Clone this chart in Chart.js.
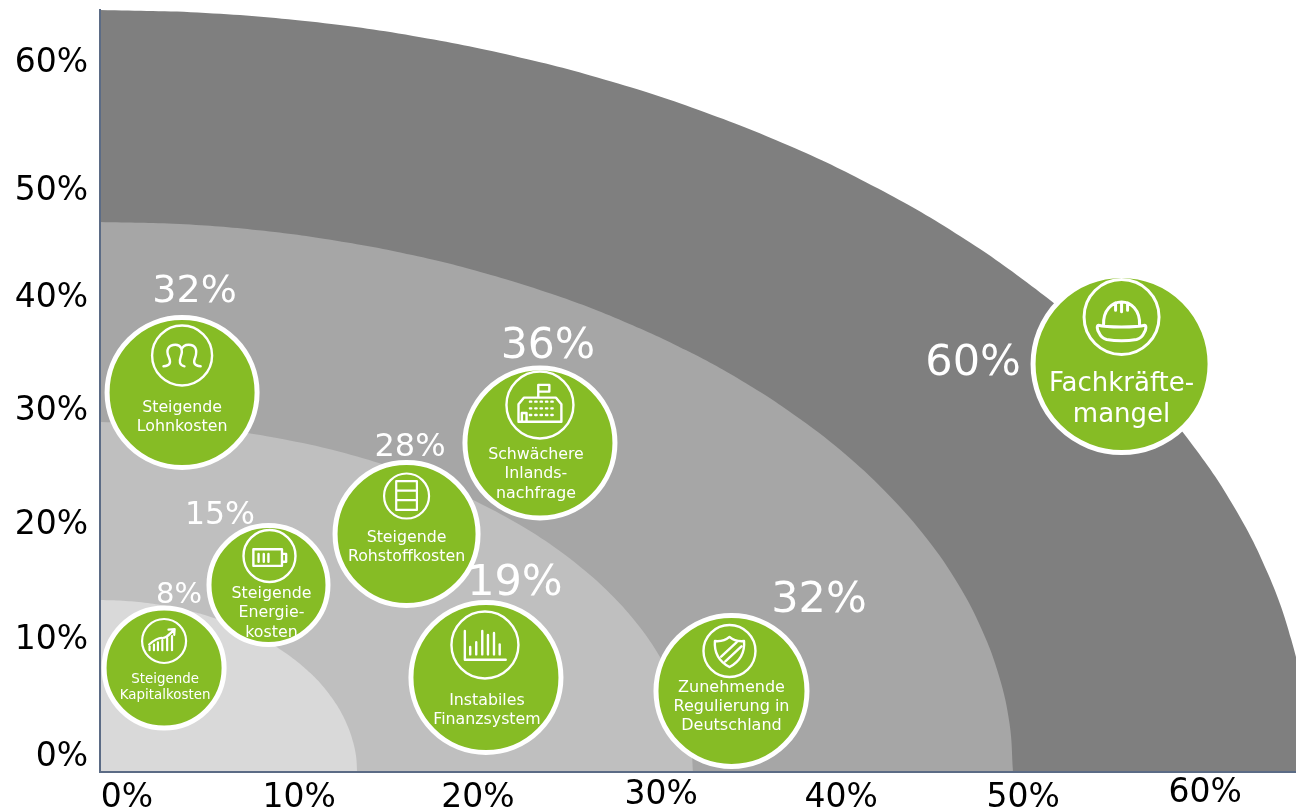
<!DOCTYPE html>
<html lang="de">
<head>
<meta charset="utf-8">
<title>Geschäftsrisiken</title>
<script src="https://cdn.jsdelivr.net/npm/chart.js@4"></script>
<style>
  html, body { margin: 0; padding: 0; background: #fff; overflow: hidden; }
  canvas { display: block; }
</style>
</head>
<body>
<canvas id="riskChart" width="1296" height="808"></canvas>
<script>
// Tick positions are read off the picture, the labels there are not evenly spaced
const xTickValues = [0, 9.56, 19.5, 29.67, 39.67, 49.78, 59.89];
const xTickLabels = ['0%', '10%', '20%', '30%', '40%', '50%', '60%'];
const yTickValues = [-0.25, 9.85, 19.78, 29.63, 39.39, 48.63, 59.75];
const yTickLabels = ['0%', '10%', '20%', '30%', '40%', '50%', '60%'];

// Risks
const riskNames = [
  ['Steigende', 'Lohnkosten'],
  ['Steigende', 'Energie-', 'kosten'],
  ['Steigende', 'Kapitalkosten'],
  ['Steigende', 'Rohstoffkosten'],
  ['Schwächere', 'Inlands-', 'nachfrage'],
  ['Instabiles', 'Finanzsystem'],
  ['Zunehmende', 'Regulierung in', 'Deutschland'],
  ['Fachkräfte-', 'mangel']
];
const riskShares = ['32%', '15%', '8%', '28%', '36%', '19%', '32%', '60%'];
const riskX = [3.06, 7.86, 2.06, 15.53, 22.94, 19.94, 33.58, 55.25];
const riskY = [31.3, 14.68, 7.51, 19.08, 26.94, 6.69, 5.53, 33.76];
const riskR = [75, 59.5, 60, 71.5, 75, 75, 75.5, 88.5];

// Background bands, outlines
const band1X = [-1.5, -0.25, 0.98, 2.2, 3.38, 4.53, 5.64, 6.69, 7.68, 8.6, 9.44, 10.2, 10.87, 11.44, 11.92, 12.29, 12.56, 12.73, 12.78];
const band1Y = [13.38, 13.32, 13.15, 12.87, 12.48, 11.99, 11.39, 10.7, 9.91, 9.03, 8.08, 7.05, 5.96, 4.81, 3.61, 2.37, 1.11, -0.18, -1.47];
const band2X = [-1.5, 1.37, 4.22, 7.02, 9.77, 12.42, 14.97, 17.39, 19.67, 21.79, 23.73, 25.48, 27.03, 28.35, 29.45, 30.32, 30.94, 31.32, 31.44];
const band2Y = [28.75, 28.64, 28.29, 27.72, 26.93, 25.92, 24.7, 23.29, 21.68, 19.9, 17.96, 15.86, 13.64, 11.3, 8.87, 6.35, 3.78, 1.17, -1.47];
const band3X = [-1.5, 2.92, 7.31, 11.63, 15.85, 19.93, 23.86, 27.59, 31.1, 34.36, 37.35, 40.05, 42.42, 44.47, 46.16, 47.49, 48.45, 49.03, 49.22];
const band3Y = [46.03, 45.85, 45.31, 44.41, 43.17, 41.58, 39.67, 37.44, 34.92, 32.12, 29.06, 25.78, 22.28, 18.6, 14.78, 10.82, 6.78, 2.67, -1.47];
const band4X = [-1.5, 4.36, 10.17, 15.89, 21.48, 26.9, 32.1, 37.05, 41.7, 46.02, 49.98, 53.55, 56.7, 59.4, 61.65, 63.41, 64.68, 65.45, 65.7];
const band4Y = [64.33, 64.08, 63.33, 62.09, 60.36, 58.16, 55.51, 52.43, 48.93, 45.06, 40.83, 36.27, 31.43, 26.34, 21.03, 15.56, 9.95, 4.27, -1.47];

const FONT = '"DejaVu Sans", Verdana, sans-serif';
const GREEN = '#86bc25';

// Some x labels sit a bit higher in the picture
const xLabelNudge = [0, 0, 0, -3, 0, 0, -5];

// Placement of the share label, icon ring and caption relative to each bubble, in pixels
const shareStyle = [
  { dx: 12.5, dy: -100, size: 38 },
  { dx: -48.5, dy: -69.3, size: 31.5 },
  { dx: 15, dy: -72.3, size: 29 },
  { dx: 3.5, dy: -86.8, size: 32 },
  { dx: 8, dy: -96, size: 42.5 },
  { dx: 29, dy: -93.5, size: 43 },
  { dx: 87.5, dy: -90.5, size: 43 },
  { dx: -148.5, dy: -0.5, size: 43 }
];
const ringStyle = [
  { dx: 0, dy: -37, r: 30, lw: 2.4 },
  { dx: 1, dy: -29, r: 26, lw: 2.4 },
  { dx: 0, dy: -27, r: 22, lw: 2.2 },
  { dx: 0, dy: -38, r: 22.5, lw: 2.2 },
  { dx: 0, dy: -38, r: 33.5, lw: 2.4 },
  { dx: -1, dy: -32.5, r: 33.5, lw: 2.4 },
  { dx: -2, dy: -40, r: 26, lw: 2.4 },
  { dx: 0, dy: -47, r: 37.5, lw: 3 }
];
const captionStyle = [
  { dx: 0, dy: 15.5, step: 19, size: 15.8 },
  { dx: 3, dy: 9, step: 19.4, size: 15.8 },
  { dx: 1, dy: 12, step: 16, size: 13.4 },
  { dx: 0, dy: 4, step: 19.3, size: 15.8 },
  { dx: -4, dy: 12, step: 19.3, size: 15.8 },
  { dx: 1, dy: 23.5, step: 19, size: 15.8 },
  { dx: 0, dy: -3, step: 18.8, size: 16 },
  { dx: 0, dy: 20, step: 31.3, size: 26 }
];

// Icons, in a box where the ring has radius 50
const icons = [
  'M-31 18C-20 17 -18 12 -22 3C-28 -10 -22 -18 -11 -18C-2 -18 2 -10 -2 1C-5 10 -5 16 4 18 M-1 -10C1 -16 6 -18 11 -18C22 -18 26 -10 22 3C18 12 20 17 31 18',
  'M-31 -13H24V19H-31Z M24 -4H32V11H24 M-21 -4V11 M-11 -4V11 M-2 -4V11',
  'M-33 12V21 M-23 8V21 M-14 3V21 M-4 -2V21 M7 -7V21 M18 -11V21 M-34 8C-22 -2 -14 -7 -6 -7C2 -6 8 -10 24 -27 M10 -26L24 -27L23 -14',
  'M-23 -33H23V31H-23Z M-23 -12H23 M-23 9H23',
  'M-2.5 -11V-30H14V-20H-2.5 M-32 25V-1L-24 -11H24L32 -1V25Z M-27 25V12H-20V25 M-15 -5H-13 M-7 -5H-5 M1 -5H3 M9 -5H11 M17 -5H19 M-15 5H-13 M-7 5H-5 M1 5H3 M9 5H11 M17 5H19 M-15 15H-13 M-7 15H-5 M1 15H3 M9 15H11 M17 15H19',
  'M-30 -21V22H31 M-22 3V14 M-13 -4V14 M-4 -21V14 M4.5 -15V14 M13.5 -18V14 M22 -1V14',
  'M0 -27C8 -20 18 -18 28 -19C30 5 20 20 0 31C-20 20 -30 5 -28 -19C-18 -18 -8 -20 0 -27Z M-16 11L14 -17 M-8 20L23 -9',
  'M-24 11C-25 -10 -12 -20 0 -20C12 -20 25 -10 24 11 M-8 -19V-9 M0 -20V-7 M8 -19V-9 M-31 11C-20 14 20 14 31 11C33 11 33 17 30 21C28 26 24 29 20 30C8 32 -8 32 -20 30C-24 29 -28 26 -30 21C-33 17 -33 11 -31 11Z'
];

function zipPoints(xs, ys) {
  return xs.map((x, i) => ({ x, y: ys[i] }));
}

function bandDataset(xs, ys, color, order) {
  return {
    type: 'scatter',
    showLine: true,
    data: zipPoints(xs, ys),
    borderWidth: 0,
    borderColor: color,
    backgroundColor: color,
    pointRadius: 0,
    tension: 0.4,
    capBezierPoints: false,
    fill: 'start',
    order
  };
}

// Draws shares, icons and captions on top of the bubbles
const bubbleText = {
  id: 'bubbleText',
  beforeDraw(chart) {
    chart.scales.x.getLabelItems().forEach((item, i) => {
      if (!item.nudged) {
        item.options.translation[1] += xLabelNudge[i];
        item.nudged = true;
      }
    });
  },
  afterDatasetsDraw(chart) {
    const ctx = chart.ctx;
    const points = chart.getDatasetMeta(0).data;
    points.forEach((pt, i) => {
      const share = shareStyle[i];
      const ring = ringStyle[i];
      const cap = captionStyle[i];

      ctx.save();
      ctx.textAlign = 'center';
      ctx.textBaseline = 'middle';
      ctx.fillStyle = '#fff';
      ctx.font = `${share.size}px ${FONT}`;
      ctx.fillText(riskShares[i], pt.x + share.dx, pt.y + share.dy);

      ctx.font = `${cap.size}px ${FONT}`;
      riskNames[i].forEach((line, n) => {
        ctx.fillText(line, pt.x + cap.dx, pt.y + cap.dy + n * cap.step);
      });

      const scale = ring.r / 50;
      ctx.translate(pt.x + ring.dx, pt.y + ring.dy);
      ctx.scale(scale, scale);
      ctx.strokeStyle = '#fff';
      ctx.lineWidth = ring.lw / scale;
      ctx.lineJoin = 'round';
      ctx.lineCap = 'round';
      ctx.beginPath();
      ctx.arc(0, 0, 50, 0, Math.PI * 2);
      ctx.stroke();
      ctx.stroke(new Path2D(icons[i]));
      ctx.restore();
    });
  }
};

new Chart(document.getElementById('riskChart'), {
  type: 'scatter',
  data: {
    datasets: [
      {
        type: 'bubble',
        data: riskX.map((x, i) => ({ x, y: riskY[i], r: riskR[i] })),
        backgroundColor: GREEN,
        borderColor: '#fff',
        borderWidth: 5,
        order: 0
      },
      bandDataset(band1X, band1Y, '#d9d9d9', 1),
      bandDataset(band2X, band2Y, '#bfbfbf', 2),
      bandDataset(band3X, band3Y, '#a6a6a6', 3),
      bandDataset(band4X, band4Y, '#7f7f7f', 4)
    ]
  },
  options: {
    responsive: false,
    animation: false,
    events: [],
    layout: { autoPadding: false, padding: { top: 10, left: 0, right: 0, bottom: 0 } },
    plugins: { legend: { display: false }, tooltip: { enabled: false } },
    scales: {
      x: {
        type: 'linear',
        bounds: 'data',
        min: -1.5,
        max: 64.94,
        grid: { display: false, tickLength: 0 },
        border: { display: true, color: '#5b6b85', width: 2, z: 1 },
        afterBuildTicks(axis) { axis.ticks = xTickValues.map(value => ({ value })); },
        afterFit(axis) {
          axis.height = 36;
          axis.paddingLeft = 0;
          axis.paddingRight = 0;
        },
        ticks: {
          autoSkip: false,
          maxRotation: 0,
          padding: 7,
          color: '#000',
          font: { family: FONT, size: 33 },
          callback: (v, i) => xTickLabels[i]
        }
      },
      y: {
        type: 'linear',
        bounds: 'data',
        min: -1.47,
        max: 64.33,
        grid: { display: false, tickLength: 0 },
        border: { display: true, color: '#5b6b85', width: 2, z: 1 },
        afterBuildTicks(axis) { axis.ticks = yTickValues.map(value => ({ value })); },
        afterFit(axis) {
          axis.width = 100;
          axis.paddingTop = 0;
          axis.paddingBottom = 0;
        },
        ticks: {
          autoSkip: false,
          padding: 12,
          color: '#000',
          font: { family: FONT, size: 33 },
          callback: (v, i) => yTickLabels[i]
        }
      }
    }
  },
  plugins: [bubbleText]
});
</script>
</body>
</html>
